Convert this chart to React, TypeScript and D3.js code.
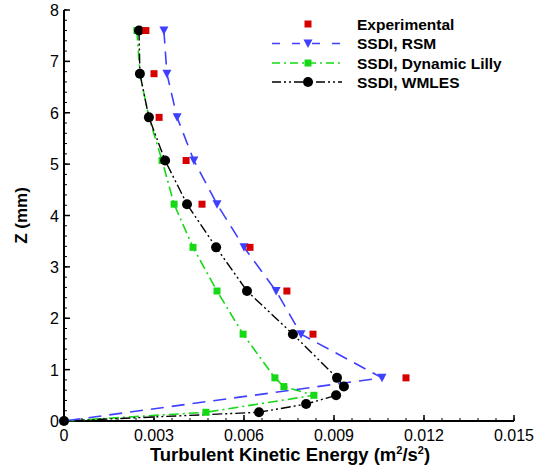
import React from "react";
import * as d3 from "d3";

const zLevels = [7.6, 6.76, 5.91, 5.07, 4.22, 3.38, 2.53, 1.69, 0.84, 0.67, 0.5, 0.33, 0.17, 0];

const expZ = [7.6, 6.76, 5.91, 5.07, 4.22, 3.38, 2.53, 1.69, 0.84];
const expK = [0.00273, 0.003, 0.00317, 0.00407, 0.0046, 0.0062, 0.00743, 0.0083, 0.0114];

const rsmZ = [7.6, 6.76, 5.91, 5.07, 4.22, 3.38, 2.53, 1.69, 0.84, 0];
const rsmK = [0.00333, 0.00343, 0.00377, 0.00433, 0.0051, 0.006, 0.00707, 0.0079, 0.0106, 0];

const lillyZ = [7.6, 6.76, 5.91, 5.07, 4.22, 3.38, 2.53, 1.69, 0.84, 0.67, 0.5, 0.17, 0];
const lillyK = [0.00243, 0.00253, 0.00283, 0.00327, 0.00367, 0.0043, 0.0051, 0.00597, 0.00703, 0.00733, 0.00833, 0.00473, 0];

const wmlesZ = zLevels;
const wmlesK = [0.0025, 0.00253, 0.00283, 0.00337, 0.0041, 0.00507, 0.0061, 0.00763, 0.0091, 0.00933, 0.00907, 0.00807, 0.0065, 0];

const xTicks = [0, 0.003, 0.006, 0.009, 0.012, 0.015];
const xTickLabels = ["0", "0.003", "0.006", "0.009", "0.012", "0.015"];
const yTicks = [0, 1, 2, 3, 4, 5, 6, 7, 8];

const legendLabels = ["Experimental", "SSDI, RSM", "SSDI, Dynamic Lilly", "SSDI, WMLES"];

const W = 543;
const H = 472;
const FONT = "'Liberation Sans', Arial, sans-serif";

const RED = "#d60000";
const BLUE = "#3f3fff";
const GREEN = "#14d914";
const BLACK = "#000000";

export default function App() {
  const x = d3.scaleLinear().domain([0, 0.015]).range([64, 514]);
  const y = d3.scaleLinear().domain([0, 8]).range([421, 10]);

  const mk = (ks: number[], zs: number[]) => ks.map((k, i) => [k, zs[i]] as [number, number]);
  const line = d3
    .line<[number, number]>()
    .x((d) => x(d[0]))
    .y((d) => y(d[1]));

  const rsm = mk(rsmK, rsmZ);
  const lilly = mk(lillyK, lillyZ);
  const wmles = mk(wmlesK, wmlesZ);
  const exp = mk(expK, expZ);

  const xMinor = d3.range(0, 0.015 + 1e-9, 0.0006);
  const yMinor = d3.range(0, 8 + 1e-9, 0.2);

  const tri = (cx: number, cy: number, s: number) =>
    `M${cx - s / 2},${cy - s * 0.45} L${cx + s / 2},${cy - s * 0.45} L${cx},${cy + s * 0.5} Z`;

  const legX0 = 272;
  const legX1 = 342;
  const legMx = 308;
  const legTx = 357;
  const legY = [24, 43.5, 63, 82];

  return (
    <svg
      width={W}
      height={H}
      style={{ position: "absolute", left: 0, top: 0, background: "#fff" }}
      fontFamily={FONT}
    >
      <rect x={0} y={0} width={W} height={H} fill="#fff" />
      {/* axes */}
      <line x1={x(0)} x2={x(0.015)} y1={y(0)} y2={y(0)} stroke="#000" strokeWidth={2} />
      <line x1={x(0)} x2={x(0)} y1={y(0)} y2={y(8)} stroke="#000" strokeWidth={2} />
      {xMinor.map((t, i) => (
        <line key={"xm" + i} x1={x(t)} x2={x(t)} y1={y(0)} y2={y(0) - 3} stroke="#000" strokeWidth={1} />
      ))}
      {xTicks.map((t, i) => (
        <line key={"xM" + i} x1={x(t)} x2={x(t)} y1={y(0)} y2={y(0) - 6} stroke="#000" strokeWidth={1.5} />
      ))}
      {yMinor.map((t, i) => (
        <line key={"ym" + i} x1={x(0)} x2={x(0) + 3} y1={y(t)} y2={y(t)} stroke="#000" strokeWidth={1} />
      ))}
      {yTicks.map((t, i) => (
        <line key={"yM" + i} x1={x(0)} x2={x(0) + 6} y1={y(t)} y2={y(t)} stroke="#000" strokeWidth={1.5} />
      ))}
      {xTicks.map((t, i) => (
        <text key={"xl" + i} x={x(t)} y={y(0) + 20} fontSize={16} textAnchor="middle" fill="#000">
          {xTickLabels[i]}
        </text>
      ))}
      {yTicks.map((t, i) => (
        <text key={"yl" + i} x={x(0) - 5} y={y(t) + 6} fontSize={16} textAnchor="end" fill="#000">
          {t}
        </text>
      ))}
      <text x={290} y={461} fontSize={18.5} fontWeight="bold" textAnchor="middle" fill="#000">
        Turbulent Kinetic Energy (m
        <tspan fontSize={11} dy={-7}>2</tspan>
        <tspan dy={7}>/s</tspan>
        <tspan fontSize={11} dy={-7}>2</tspan>
        <tspan dy={7}>)</tspan>
      </text>
      <text
        transform={`translate(27,${y(4)}) rotate(-90)`}
        fontSize={17}
        fontWeight="bold"
        textAnchor="middle"
        fill="#000"
      >
        Z (mm)
      </text>

      {/* series lines */}
      <path d={line(lilly) || ""} fill="none" stroke={GREEN} strokeWidth={1.6} strokeDasharray="10,4,2,4" />
      <path d={line(wmles) || ""} fill="none" stroke={BLACK} strokeWidth={1.4} strokeDasharray="10,3,2,3,2,3" />
      <path d={line(rsm) || ""} fill="none" stroke={BLUE} strokeWidth={1.6} strokeDasharray="13,8" />

      {/* markers */}
      {lilly.map((d, i) => (
        <rect key={"lm" + i} x={x(d[0]) - 3.5} y={y(d[1]) - 3.5} width={7} height={7} fill={GREEN} />
      ))}
      {wmles.map((d, i) => (
        <circle key={"wm" + i} cx={x(d[0])} cy={y(d[1])} r={5} fill={BLACK} />
      ))}
      {rsm.slice(0, rsm.length - 1).map((d, i) => (
        <path key={"rm" + i} d={tri(x(d[0]), y(d[1]), 9)} fill={BLUE} />
      ))}
      {exp.map((d, i) => (
        <rect key={"em" + i} x={x(d[0]) - 3.5} y={y(d[1]) - 3.5} width={7} height={7} fill={RED} />
      ))}

      {/* legend */}
      <rect x={legMx - 3.5} y={legY[0] - 3.5} width={7} height={7} fill={RED} />
      <line x1={legX0} x2={legX1} y1={legY[1]} y2={legY[1]} stroke={BLUE} strokeWidth={1.6} strokeDasharray="8,12" />
      <path d={tri(legMx, legY[1], 9)} fill={BLUE} />
      <line x1={legX0} x2={legX1} y1={legY[2]} y2={legY[2]} stroke={GREEN} strokeWidth={1.6} strokeDasharray="8,4,2,4" />
      <rect x={legMx - 3.5} y={legY[2] - 3.5} width={7} height={7} fill={GREEN} />
      <line x1={legX0} x2={legX1} y1={legY[3]} y2={legY[3]} stroke={BLACK} strokeWidth={1.4} strokeDasharray="9,3,2,3,2,3" />
      <circle cx={legMx} cy={legY[3]} r={5} fill={BLACK} />
      {legendLabels.map((l, i) => (
        <text key={"lt" + i} x={legTx} y={legY[i] + 5.5} fontSize={15.5} fontWeight="bold" fill="#000">
          {l}
        </text>
      ))}
    </svg>
  );
}
